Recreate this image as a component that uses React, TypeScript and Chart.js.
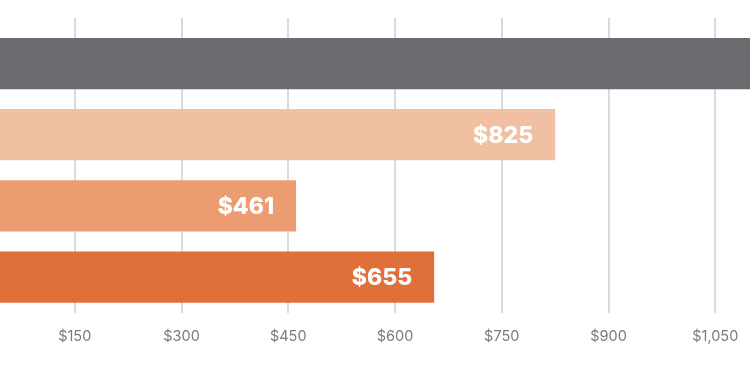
import React, { useEffect, useRef } from "react";
import { Chart, registerables } from "chart.js";

Chart.register(...registerables);

const categories = ["Total", "Category A", "Category B", "Category C"];
const values = [1941, 825, 461, 655];
const barColors = ["#6b6c70", "#f1c0a3", "#eb9d71", "#e0703a"];
const tickValues = [150, 300, 450, 600, 750, 900, 1050];
const axisMin = 0;
const axisMax = 1200;

const fmt = (v: number) => "$" + Number(v).toLocaleString("en-US");

const valueLabels = {
  id: "valueLabels",
  afterDatasetsDraw(chart: any) {
    const ctx = chart.ctx;
    const meta = chart.getDatasetMeta(0);
    ctx.save();
    ctx.font = "800 23px Inter";
    ctx.fillStyle = "#ffffff";
    ctx.textAlign = "right";
    ctx.textBaseline = "middle";
    meta.data.forEach((el: any, i: number) => {
      ctx.fillText(fmt(values[i]), el.x - 22, el.y + 1);
    });
    ctx.restore();
  },
};

export default function App() {
  const ref = useRef<HTMLCanvasElement>(null);
  useEffect(() => {
    if (!ref.current) return;
    const setTicks = (scale: any) => {
      scale.ticks = tickValues.map((v) => ({ value: v }));
    };
    const chart = new Chart(ref.current, {
      type: "bar",
      data: {
        labels: categories,
        datasets: [
          {
            data: values,
            backgroundColor: barColors,
            borderWidth: 0,
            categoryPercentage: 0.8,
            barPercentage: 0.9,
          },
        ],
      },
      options: {
        indexAxis: "y",
        animation: false,
        responsive: false,
        devicePixelRatio: 1,
        layout: { padding: { top: 18, bottom: 15, left: 0, right: 0 } },
        plugins: {
          legend: { display: false },
          tooltip: { enabled: false },
        },
        scales: {
          x: {
            position: "bottom",
            min: axisMin,
            max: axisMax,
            afterBuildTicks: setTicks,
            grid: {
              color: "#dadada",
              lineWidth: 2,
              drawTicks: false,
            },
            border: { display: false },
            ticks: {
              padding: 15,
              color: "#7a7a7a",
              font: { family: "Inter", size: 14.5 },
              callback: (v: any) => fmt(v),
              maxRotation: 0,
              autoSkip: false,
            },
          },
          x2: {
            type: "linear",
            position: "top",
            min: axisMin,
            max: axisMax,
            afterBuildTicks: setTicks,
            grid: {
              color: "#dadada",
              lineWidth: 2,
              drawOnChartArea: false,
              drawTicks: true,
              tickLength: 10,
            },
            border: { display: false },
            ticks: { display: false },
          },
          y: {
            display: false,
          },
        },
      },
      plugins: [valueLabels],
    });
    return () => chart.destroy();
  }, []);

  return (
    <div
      style={{
        position: "fixed",
        left: 0,
        top: 0,
        width: 750,
        height: 375,
        overflow: "hidden",
        background: "#ffffff",
      }}
    >
      <canvas
        ref={ref}
        width={854}
        height={375}
        style={{ position: "absolute", left: -32, top: 0, width: 854, height: 375, display: "block" }}
      />
    </div>
  );
}
